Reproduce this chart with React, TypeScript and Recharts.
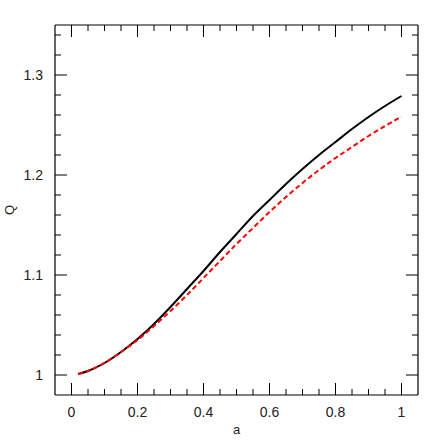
import { LineChart, Line, XAxis, YAxis } from "recharts";

// a values along the curves
const aValues = [0.02, 0.05, 0.1, 0.15, 0.2, 0.25, 0.3, 0.35, 0.4, 0.45, 0.5, 0.55, 0.6, 0.65, 0.7, 0.75, 0.8, 0.85, 0.9, 0.95, 1.0];
// solid black curve
const qSolid = [1.001, 1.004, 1.012, 1.023, 1.036, 1.051, 1.068, 1.086, 1.104, 1.123, 1.141, 1.159, 1.175, 1.191, 1.206, 1.22, 1.233, 1.246, 1.258, 1.269, 1.279];
// dashed red curve
const qDashed = [1.001, 1.004, 1.012, 1.023, 1.035, 1.049, 1.064, 1.08, 1.097, 1.114, 1.131, 1.147, 1.163, 1.178, 1.192, 1.205, 1.217, 1.228, 1.239, 1.249, 1.2585];

const xTicks = [0, 0.05, 0.1, 0.15, 0.2, 0.25, 0.3, 0.35, 0.4, 0.45, 0.5, 0.55, 0.6, 0.65, 0.7, 0.75, 0.8, 0.85, 0.9, 0.95, 1];
const xMajor = [0, 0.2, 0.4, 0.6, 0.8, 1];
const yTicks = [1, 1.02, 1.04, 1.06, 1.08, 1.1, 1.12, 1.14, 1.16, 1.18, 1.2, 1.22, 1.24, 1.26, 1.28, 1.3, 1.32, 1.34];
const yMajor = [1, 1.1, 1.2, 1.3];
const yLabels = ["1", "1.1", "1.2", "1.3"];
const xLabels = ["0", "0.2", "0.4", "0.6", "0.8", "1"];

const data = aValues.map((a, i) => ({ a, solid: qSolid[i], dashed: qDashed[i] }));

const FONT = "'Liberation Sans', sans-serif";
const MAJOR = 12;
const MINOR = 6;

const majorIndex = (list: number[], v: number) => list.findIndex((m) => Math.abs(m - v) < 1e-6);

const tickFor = (side: "bottom" | "top" | "left" | "right") => (props: any) => {
  const { x, y, payload } = props;
  const v = payload.value;
  const horiz = side === "bottom" || side === "top";
  const idx = majorIndex(horiz ? xMajor : yMajor, v);
  const len = idx >= 0 ? MAJOR : MINOR;
  let line;
  if (side === "bottom") line = <line x1={x} x2={x} y1={y} y2={y - len} stroke="#000" />;
  else if (side === "top") line = <line x1={x} x2={x} y1={y} y2={y + len} stroke="#000" />;
  else if (side === "left") line = <line x1={x} x2={x + len} y1={y} y2={y} stroke="#000" />;
  else line = <line x1={x} x2={x - len} y1={y} y2={y} stroke="#000" />;
  let label = null;
  if (idx >= 0 && side === "bottom") {
    label = (
      <text x={x} y={y + 22} textAnchor="middle" fontSize={14} fontFamily={FONT} fill="#222">
        {xLabels[idx]}
      </text>
    );
  } else if (idx >= 0 && side === "left") {
    label = (
      <text x={x - 12} y={y + 5} textAnchor="end" fontSize={14} fontFamily={FONT} fill="#222">
        {yLabels[idx]}
      </text>
    );
  }
  return (
    <g>
      {line}
      {label}
    </g>
  );
};

export default function App() {
  return (
    <div style={{ position: "absolute", left: 0, top: 0, background: "#fff" }}>
      <LineChart width={443} height={443} data={data} margin={{ top: 24, right: 24, left: 0, bottom: 0 }}>
        <XAxis
          xAxisId="bottom"
          dataKey="a"
          type="number"
          domain={[-0.05, 1.05]}
          allowDataOverflow
          ticks={xTicks}
          interval={0}
          height={48}
          tickSize={0}
          tickMargin={0}
          tickLine={false}
          axisLine={{ stroke: "#000", strokeWidth: 1.2 }}
          tick={tickFor("bottom")}
          label={{ value: "a", position: "insideBottom", offset: 9, fontSize: 13, fontFamily: FONT, fill: "#222" }}
        />
        <XAxis
          xAxisId="top"
          orientation="top"
          dataKey="a"
          type="number"
          domain={[-0.05, 1.05]}
          allowDataOverflow
          ticks={xTicks}
          interval={0}
          height={1}
          tickSize={0}
          tickMargin={0}
          tickLine={false}
          axisLine={{ stroke: "#000", strokeWidth: 1.2 }}
          tick={tickFor("top")}
        />
        <YAxis
          yAxisId="left"
          type="number"
          domain={[0.98, 1.35]}
          allowDataOverflow
          ticks={yTicks}
          interval={0}
          width={55}
          tickSize={0}
          tickMargin={0}
          tickLine={false}
          axisLine={{ stroke: "#000", strokeWidth: 1.2 }}
          tick={tickFor("left")}
          label={{ value: "Q", angle: -90, position: "insideLeft", offset: 9, fontSize: 13, fontFamily: FONT, fill: "#222", style: { textAnchor: "middle" } }}
        />
        <YAxis
          yAxisId="right"
          orientation="right"
          type="number"
          domain={[0.98, 1.35]}
          allowDataOverflow
          ticks={yTicks}
          interval={0}
          width={1}
          tickSize={0}
          tickMargin={0}
          tickLine={false}
          axisLine={{ stroke: "#000", strokeWidth: 1.2 }}
          tick={tickFor("right")}
        />
        <Line
          xAxisId="top"
          yAxisId="right"
          dataKey="solid"
          stroke="none"
          dot={false}
          legendType="none"
          isAnimationActive={false}
        />
        <Line
          xAxisId="bottom"
          yAxisId="left"
          type="monotone"
          dataKey="solid"
          stroke="#000"
          strokeWidth={2}
          dot={false}
          isAnimationActive={false}
        />
        <Line
          xAxisId="bottom"
          yAxisId="left"
          type="monotone"
          dataKey="dashed"
          stroke="#ff0000"
          strokeWidth={2}
          strokeDasharray="5 3"
          dot={false}
          isAnimationActive={false}
        />
      </LineChart>
    </div>
  );
}
